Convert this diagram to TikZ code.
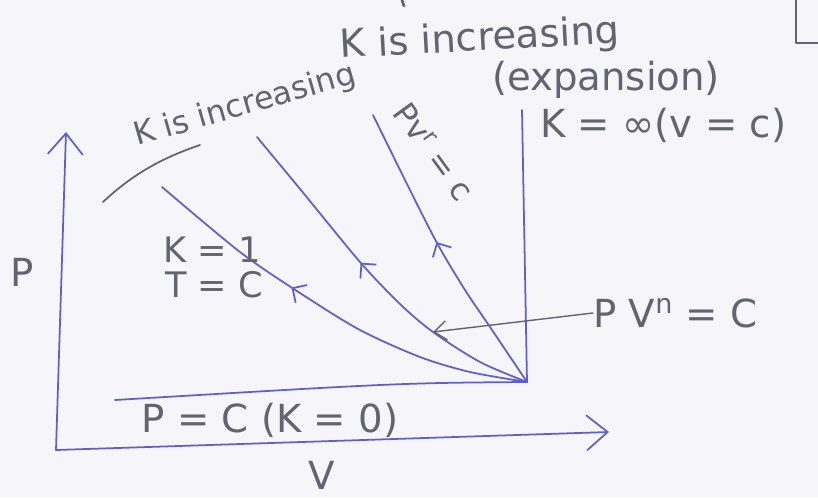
\documentclass[tikz,border=0pt]{standalone}
\usepackage{fontspec}
\setmainfont{DejaVu Sans}
\usepackage{tikz}
\usetikzlibrary{arrows.meta,decorations.markings}
\definecolor{inkblue}{RGB}{98,96,200}
\definecolor{pencil}{RGB}{100,100,112}
\definecolor{paper}{RGB}{245,245,250}

\tikzset{
  curve/.style={inkblue, line width=1pt},
  lbl/.style={text=pencil, inner sep=0pt, font=\fontsize{22}{24}\selectfont},
  smalllbl/.style={lbl, font=\fontsize{18}{20}\selectfont},
  flowmark/.style={postaction={decorate}, decoration={markings,
    mark=at position #1 with {\arrowreversed[inkblue]{Straight Barb[length=6pt,width=12pt]}}}}
}

\begin{document}
\begin{tikzpicture}[x=0.02cm, y=-0.02cm, >={Straight Barb[length=12pt,width=20pt]}, line join=round, line cap=round]
  \fill[paper] (0,0) rectangle (818,497);
  \useasboundingbox (0,0) rectangle (818,497);
  \coordinate (O) at (527,382);
  \coordinate (Org) at (56,450);
  \coordinate (Ptop) at (66,132);
  \coordinate (Vend) at (609,432);
  \coordinate (Vtop) at (522,110);
  \coordinate (Pleft) at (115,400);
  \coordinate (Hit) at (433,332);
  % axes
  \draw[curve,->] (Org) -- (Ptop);
  \draw[curve,->] (Org) -- (Vend);
  % processes from the common state
  \draw[curve] (O) -- (Vtop);
  \draw[curve] (O) .. controls (400,383) .. (Pleft);
  \draw[curve,flowmark=0.39] plot[smooth] coordinates {(162,187) (240,252) (300,293) (360,330) (420,357) (470,372) (527,382)};
  \draw[curve,flowmark=0.44] plot[smooth] coordinates {(257,137) (305,195) (360,262) (400,304) (433,332) (480,362) (527,382)};
  \draw[curve,flowmark=0.46] plot[smooth] coordinates {(373,115) (405,180) (437,243) (465,290) (490,327) (527,382)};
  % sweep mark
  \draw[pencil,line width=1pt] (103,202) .. controls (135,172) and (165,157) .. (200,145);
  % cut box at the corner
  \draw[pencil,line width=0.8pt] (796,0) -- (796,43) -- (818,43);
  \draw[pencil,line width=1.6pt] (402,0) -- (404,6);
  % labels
  \node[lbl,rotate=3] (kinc) at (480,40) {K is increasing};
  \node[lbl] (expn) at (606,80) {(expansion)};
  \node[lbl,anchor=west] (kinf) at (540,125) {K = ∞(v = c)};
  \node[smalllbl,rotate=16] (kinc2) at (245,106) {K is increasing};
  \node[smalllbl,rotate=-54] (adia) at (434,152) {Pv\textsuperscript{r} = c};
  \node[lbl,font=\fontsize{20}{22}\selectfont,anchor=west] (kone) at (163,250) {K = 1};
  \node[lbl,font=\fontsize{20}{22}\selectfont,anchor=west] (tc) at (165,285) {T = C};
  \node[lbl,anchor=west] (pvn) at (593,313) {P V\textsuperscript{n} = C};
  \node[lbl] (pc) at (270,420) {P = C (K = 0)};
  \node[lbl] (plab) at (22,272) {P};
  \node[lbl] (vlab) at (322,475) {V};
  \draw[pencil,line width=0.8pt,-{Straight Barb[length=7pt,width=11pt]}] (pvn.west) -- (Hit);
\end{tikzpicture}
\end{document}
